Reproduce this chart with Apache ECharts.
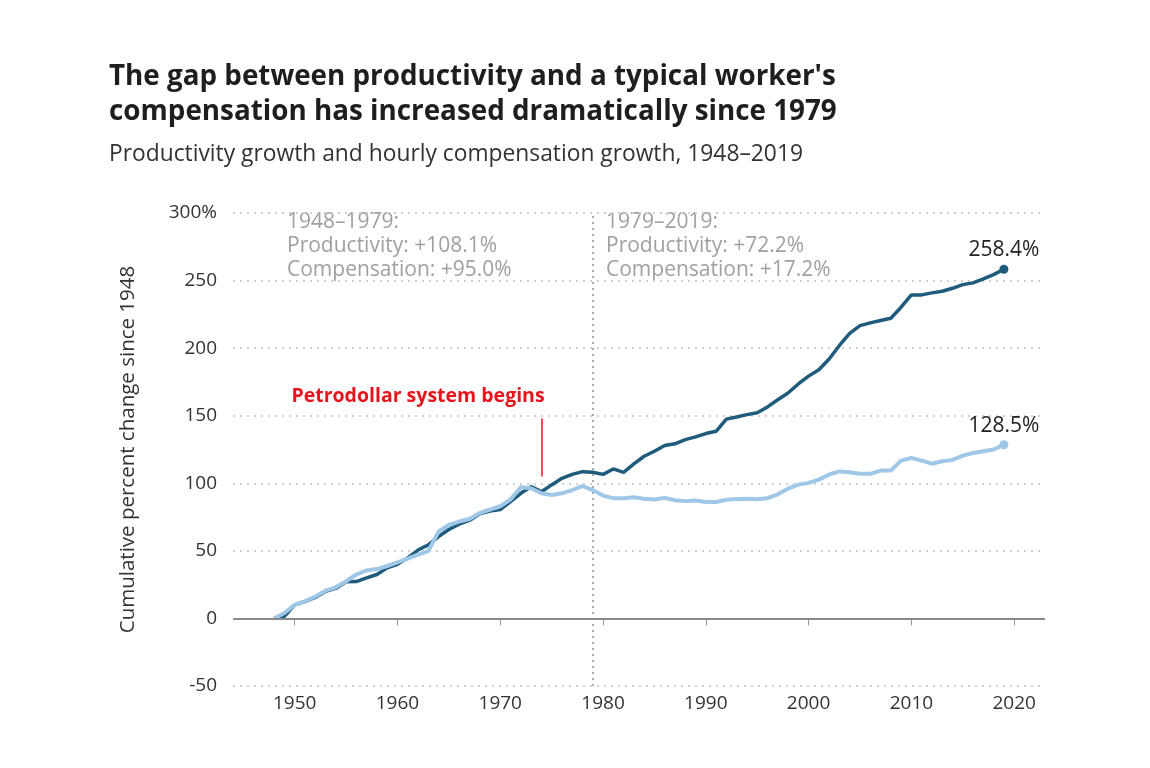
<!DOCTYPE html>
<html>
<head>
<meta charset="utf-8">
<script src="https://cdn.jsdelivr.net/npm/echarts@6/dist/echarts.min.js"></script>
<style>
html,body{margin:0;padding:0;background:#fff;}
#chart{width:1150px;height:768px;}
</style>
</head>
<body>
<div id="chart"></div>
<script>
const years = [1948,1949,1950,1951,1952,1953,1954,1955,1956,1957,1958,1959,1960,1961,1962,1963,1964,1965,1966,1967,1968,1969,1970,1971,1972,1973,1974,1975,1976,1977,1978,1979,1980,1981,1982,1983,1984,1985,1986,1987,1988,1989,1990,1991,1992,1993,1994,1995,1996,1997,1998,1999,2000,2001,2002,2003,2004,2005,2006,2007,2008,2009,2010,2011,2012,2013,2014,2015,2016,2017,2018,2019];
const productivity = [0,1.5,10,12.5,15.5,20,22.2,27.2,27.3,30,32.5,37.4,40,44.8,50.6,54.4,60.6,65.8,69.8,72.5,77.5,79.5,80.5,86.5,92.6,97.5,93.8,98.8,103.7,106.6,108.6,108.1,106.6,110.6,108.1,114.3,120,123.7,128,129.2,132.3,134.3,136.8,138.5,147.5,149,150.8,152.2,156.5,161.8,166.8,173.5,179.3,184,192,202,211,216.7,218.7,220.4,222.1,230.3,239.4,239.4,240.9,242.1,244.3,247,248.3,251.2,254.4,258.4];
const compensation = [0,4,10,12.6,16.2,20.5,23,27.5,32.5,35.5,36.5,38.8,41.5,44.2,47.2,49.8,64.3,69.2,71.7,73.6,78,80.5,83,88,97,96.3,92.6,91.4,92.6,95,98,95,90.9,89,89,89.6,88.6,88,89.2,87.5,86.8,87.2,86.2,86.2,87.8,88.3,88.6,88.2,89,91.8,96,99,100.3,102.7,106.5,108.8,108.2,107,107,109.4,109.4,116.8,118.7,116.8,114.5,116.3,117.3,120.5,122.4,123.7,125,128.5];
const xTicks = [1950,1960,1970,1980,1990,2000,2010,2020];
const dividerYear = 1979;
const petroYear = 1974;
const petroRange = [105, 148];
const petroLabelPos = [1962, 164];
const period1 = ['1948–1979:', 'Productivity: +108.1%', 'Compensation: +95.0%'];
const period2 = ['1979–2019:', 'Productivity: +72.2%', 'Compensation: +17.2%'];

const DARK = '#1f5b7c';
const LIGHT = '#9fc8e8';
const FONT = '"Open Sans", Lato, sans-serif';

function buildData(vals, color) {
  return vals.map((v, i) => {
    const item = { value: [years[i], v] };
    if (i === vals.length - 1) {
      item.symbol = 'circle';
      item.symbolSize = 9;
      item.itemStyle = { color: color };
      item.label = {
        show: true, position: 'top', distance: 4,
        formatter: v.toFixed(1) + '%',
        color: '#222', fontSize: 21, fontFamily: FONT
      };
    }
    return item;
  });
}

const chart = echarts.init(document.getElementById('chart'));
chart.setOption({
  backgroundColor: '#fff',
  animation: false,
  title: {
    text: "The gap between productivity and a typical worker's\ncompensation has increased dramatically since 1979",
    subtext: 'Productivity growth and hourly compensation growth, 1948–2019',
    left: 104, top: 55,
    itemGap: 10,
    textStyle: { fontFamily: FONT, fontWeight: 'bold', fontSize: 27.8, color: '#1e1e1e', lineHeight: 35 },
    subtextStyle: { fontFamily: FONT, fontSize: 22.8, color: '#333', lineHeight: 29 }
  },
  grid: { left: 233, right: 105, top: 213, bottom: 82, containLabel: false },
  xAxis: {
    type: 'value', min: 1944, max: 2023,
    axisLine: { show: false },
    splitLine: { show: false },
    axisTick: { show: true, customValues: xTicks, length: 7, lineStyle: { color: '#999', width: 1 } },
    axisLabel: { customValues: xTicks, color: '#333', fontSize: 19, fontFamily: FONT, margin: 8, formatter: v => String(v) }
  },
  yAxis: {
    type: 'value', min: -50, max: 300, interval: 50,
    name: 'Cumulative percent change since 1948',
    nameLocation: 'middle', nameGap: 94, nameRotate: 90,
    nameTextStyle: { color: '#333', fontSize: 20.5, fontFamily: FONT },
    axisLine: { show: false }, axisTick: { show: false },
    axisLabel: {
      color: '#333', fontSize: 19, fontFamily: FONT, margin: 16,
      formatter: v => v === 300 ? '300%' : String(v)
    },
    splitLine: { show: true, lineStyle: { color: '#d0d0d0', width: 2, type: [2, 5] } }
  },
  series: [
    {
      name: 'Productivity', type: 'line',
      data: buildData(productivity, DARK),
      symbol: 'none', showSymbol: true,
      lineStyle: { color: DARK, width: 3.5 },
      itemStyle: { color: DARK },
      z: 3,
      markLine: {
        silent: true, symbol: 'none', animation: false,
        label: { show: false },
        data: [
          { xAxis: dividerYear, lineStyle: { color: '#aaa', width: 2, type: [2, 4] } },
          { yAxis: 0, lineStyle: { color: '#888', width: 2, type: 'solid' } },
          [{ coord: [petroYear, petroRange[0]], lineStyle: { color: '#e8141c', width: 1.5, type: 'solid' } },
           { coord: [petroYear, petroRange[1]] }]
        ]
      },
      markPoint: {
        silent: true,
        data: [{
          coord: petroLabelPos, symbol: 'circle', symbolSize: 0,
          label: { show: true, formatter: 'Petrodollar system begins', color: '#e8141c', fontWeight: 'bold', fontSize: 19.5, fontFamily: FONT, position: 'inside' }
        }]
      }
    },
    {
      name: 'Compensation', type: 'line',
      data: buildData(compensation, LIGHT),
      symbol: 'none', showSymbol: true,
      lineStyle: { color: LIGHT, width: 4 },
      itemStyle: { color: LIGHT },
      z: 4
    }
  ],
  graphic: [
    { type: 'text', left: 287, top: 210, style: { text: period1.join('\n'), fill: '#a0a0a0', font: '21px ' + FONT, lineHeight: 24 } },
    { type: 'text', left: 606, top: 210, style: { text: period2.join('\n'), fill: '#a0a0a0', font: '21px ' + FONT, lineHeight: 24 } }
  ]
});
</script>
</body>
</html>
